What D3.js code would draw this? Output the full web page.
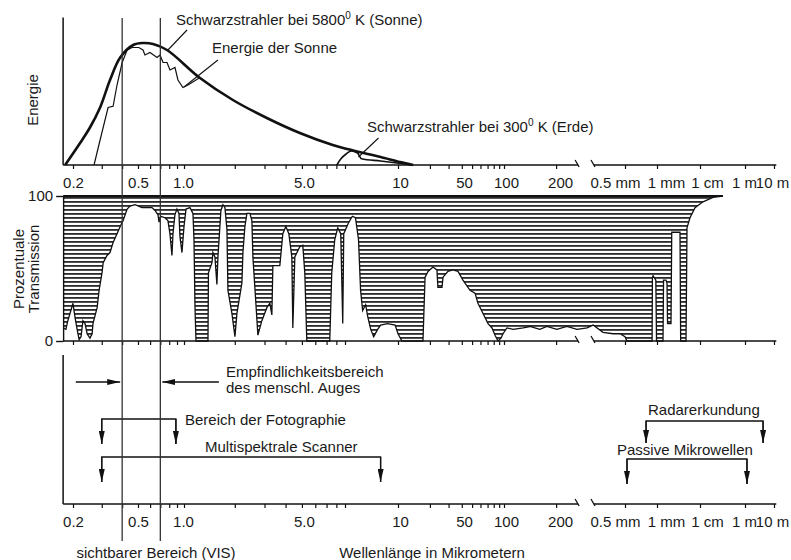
<!doctype html>
<html>
<head>
<meta charset="utf-8">
<title>Elektromagnetisches Spektrum</title>
<style>
  body { margin: 0; background: #fff; }
  svg { display: block; font-family: "Liberation Sans", Arial, Helvetica, sans-serif; }
  text { fill: #1a1a1a; }
</style>
<script src="https://cdn.jsdelivr.net/npm/d3@7"></script>
</head>
<body>
<svg width="791" height="560"></svg>
<script>

// Wellenlaengen in Mikrometern, Energie in willkuerlichen Einheiten (0-100)
var bbSunWl = [0.179, 0.221, 0.254, 0.293, 0.337, 0.389, 0.467, 0.539, 0.627, 0.774, 1.244, 1.949, 3.098, 4.859, 7.61, 9.04, 9.415, 9.66, 10.44, 13.9];
var bbSunE  = [0, 17.6, 30, 46, 68, 86, 96, 97.6, 96.8, 92, 69.6, 52, 37.6, 25.6, 16, 12.8, 8.8, 6.4, 2.4, 0];

var sunWl = [0.269, 0.293, 0.328, 0.352, 0.372, 0.40, 0.429, 0.46, 0.506, 0.539, 0.555, 0.599, 0.666, 0.697, 0.729, 0.774, 0.81, 0.873, 0.913, 0.984, 1.056, 1.244];
var sunE  = [0, 20, 46, 47, 64, 82, 92, 94, 94, 92, 88, 90, 86, 88, 82, 82, 76, 78, 68, 62, 64, 70];

var earthWl = [8.05, 8.49, 9.02, 9.113, 9.226, 9.3, 9.66, 13.9];
var earthE  = [0, 4.8, 8.8, 11.2, 9.6, 5, 3.2, 0];

// Prozentuale Transmission der Atmosphaere
var transWl = [
  0.174, 0.181, 0.186, 0.2, 0.206, 0.212, 0.218, 0.224, 0.230, 0.237, 0.244, 0.254, 0.262, 0.265, 0.281, 0.289, 0.301, 0.306, 0.323, 0.337,
  0.352, 0.372, 0.389, 0.405, 0.429, 0.447, 0.480, 0.531, 0.573, 0.617, 0.646, 0.676, 0.686, 0.707, 0.750, 0.785, 0.809, 0.834, 0.847, 0.872,
  0.899, 0.927, 0.941, 0.970, 1.0, 1.028, 1.085, 1.130, 1.146, 1.162, 1.178,
  1.387, 1.396, 1.465, 1.484, 1.525, 1.567, 1.589, 1.655, 1.701, 1.748, 1.797, 1.821, 1.923, 2.004, 2.059, 2.204, 2.235, 2.296, 2.360, 2.458,
  2.526, 2.561, 2.667, 2.741, 2.894, 3.098, 3.228, 3.317, 3.363, 3.698, 3.853, 4.014, 4.182, 4.356, 4.416, 4.538, 4.859, 5.060, 5.200, 5.344,
  7.310, 7.511, 7.826, 8.152, 8.492, 8.727, 8.847, 9.057, 9.132, 9.189, 9.245, 9.283, 9.321, 9.377, 9.415, 9.472, 9.528, 9.604, 9.660, 9.792,
  9.943, 10.0, 10.9,
  17.2, 18.0, 19.2, 21.4, 23.3, 23.8, 26.0, 26.6, 29.6, 33.0, 36.8, 41.0, 47.8, 53.3, 56.8, 63.4, 70.7, 77.1, 82.3, 87.8,
  93.7, 97.9, 104, 113, 129, 141, 161, 177, 202, 231, 264, 302, 327, 373, 427, 468, 500, 522,
  899, 905, 918, 975, 990, 1379, 1420, 1619, 1708, 1760, 2116, 2200, 3427, 3550, 4725, 4985, 5850, 7650, 13590, 37830, 105200
];
var transPct = [
  9, 8, 14, 26, 16, 8, 1, 3, 14, 12, 5, 2, 5, 12, 23, 35, 47, 54, 59, 61,
  68, 74, 79, 83, 91, 93, 94, 92, 92, 92, 90, 87, 82, 86, 85, 83, 74, 59, 74, 87,
  91, 88, 72, 61, 79, 91, 92, 88, 70, 23, 0,
  0, 47, 54, 61, 58, 39, 58, 90, 94, 92, 77, 35, 19, 3, 19, 40, 61, 79, 88, 88,
  83, 58, 26, 4, 14, 23, 26, 18, 52, 52, 74, 79, 74, 58, 9, 58, 65, 66, 47, 0,
  0, 47, 70, 78, 74, 12, 74, 81, 86, 85, 70, 35, 21, 25, 17, 8, 3, 8, 11, 12,
  11, 5, 0,
  0, 44, 48, 51, 49, 37, 37, 44, 48, 49, 48, 42, 35, 33, 26, 19, 12, 9, 4, 0,
  2, 5, 9, 8, 9, 10, 8, 10, 8, 10, 8, 9, 11, 6, 5, 5, 3, 0,
  0, 43, 45, 42, 0, 0, 42, 42, 40, 12, 12, 75, 75, 0, 0, 78, 85, 92, 96, 99, 100
];

// Achsenbeschriftung
var tickLabelWl = [0.2, 0.5, 1, 5, 10, 50, 100, 200, 500, 1000, 1e4, 1e6, 1e7];
var tickLabels  = ['0.2', '0.5', '1.0', '5.0', '10', '50', '100', '200', '0.5 mm', '1 mm', '1 cm', '1 m', '10 m'];
var minorTickWl = [0.3, 0.4, 0.6, 0.7, 0.8, 0.9, 2, 3, 4, 6, 7, 8, 9, 20, 30, 40, 60, 70, 80, 90];

// Bereiche (Mikrometer)
var visRange = [0.4, 0.7];
var eyeArrowTails = [0.208, 1.61];
var fotoRange = [0.3, 0.885];
var scannerRange = [0.3, 9.66];
var radarRange = [789, 4.2e6];
var passiveRange = [522, 1.17e6];

// Hinweislinien [wl, energie]
var pointerSun5800 = [[1.042, 108], [0.785, 92]];
var pointerSun = [[1.589, 84], [1.0, 62.4]];
var pointerEarth = [[9.62, 21.6], [9.245, 6.4]];


var svg = d3.select('svg');

// handgezeichnete, stueckweise logarithmische Wellenlaengenachse
var anchorWl = [0.2, 0.5, 1, 9, 10, 100, 500, 1000, 1e4, 1e6, 1e7];
var anchorPx = [73, 138, 184, 345, 398, 504, 625, 657, 700, 745, 774];
var xl = d3.scaleLinear().domain(anchorWl.map(Math.log10)).range(anchorPx);
function x(wl) { return xl(Math.log10(wl)); }

var axisStart = 0.174, breakLeft = 268, breakRight = 331, axisEnd = 1.2e7;
var left = x(axisStart);

var yE = d3.scaleLinear().domain([0, 100]).range([165, 40]);
var yT = d3.scaleLinear().domain([0, 100]).range([341, 196]);
var bottomAxisY = 504;

var defs = svg.append('defs');
defs.append('pattern')
  .attr('id', 'hatch')
  .attr('patternUnits', 'userSpaceOnUse')
  .attr('width', 8).attr('height', 4)
  .append('rect')
  .attr('x', 0).attr('y', 1).attr('width', 8).attr('height', 1.8)
  .attr('fill', '#2a2a2a');

defs.append('marker')
  .attr('id', 'arr')
  .attr('markerUnits', 'userSpaceOnUse')
  .attr('markerWidth', 13).attr('markerHeight', 6)
  .attr('refX', 13).attr('refY', 3)
  .attr('orient', 'auto')
  .append('path').attr('d', 'M0,0L13,3L0,6Z').attr('fill', '#111');

var labelShift = [0, 0, -1, 2, 2, -8, 2, 4, -10, 9, 7, -1, -2];

function xAxis(y, withLabels) {
  var all = tickLabelWl.concat(minorTickWl);
  var g = svg.append('g').attr('transform', 'translate(0,' + y + ')');
  g.call(d3.axisBottom(xl)
    .tickValues(all.map(Math.log10))
    .tickSize(4)
    .tickPadding(8)
    .tickFormat(function(v) {
      var i = tickLabelWl.findIndex(function(w) { return Math.abs(Math.log10(w) - v) < 1e-9; });
      return (withLabels && i >= 0) ? tickLabels[i] : '';
    }));
  g.select('.domain').remove();
  g.attr('font-size', 15).attr('font-family', null);
  g.selectAll('.tick line').attr('stroke', '#111').attr('stroke-width', 1.2);
  g.selectAll('.tick text').attr('fill', '#1a1a1a').attr('dx', function(v) {
    var i = tickLabelWl.findIndex(function(w) { return Math.abs(Math.log10(w) - v) < 1e-9; });
    return i >= 0 ? labelShift[i] : 0;
  });

  // Achse mit Unterbrechung
  var segs = [[axisStart, breakLeft], [breakRight, axisEnd]];
  segs.forEach(function(s) {
    g.append('line')
      .attr('x1', x(s[0])).attr('x2', x(s[1]))
      .attr('y1', 0).attr('y2', 0)
      .attr('stroke', '#111').attr('stroke-width', 1.5);
  });
  [x(breakLeft), x(breakRight)].forEach(function(bx) {
    g.append('line')
      .attr('x1', bx - 3).attr('y1', -5)
      .attr('x2', bx + 1).attr('y2', 2)
      .attr('stroke', '#111').attr('stroke-width', 1.3);
  });
}

// ---------- Transmission ----------
var trans = d3.zip(transWl, transPct);

svg.append('path')
  .datum(trans)
  .attr('d', d3.area().x(function(d) { return x(d[0]); }).y0(yT(100)).y1(function(d) { return yT(d[1]); }))
  .attr('fill', 'url(#hatch)');

svg.append('path')
  .datum(trans)
  .attr('d', d3.line().x(function(d) { return x(d[0]); }).y(function(d) { return yT(d[1]); }))
  .attr('fill', 'none').attr('stroke', '#111').attr('stroke-width', 1.3);

svg.append('line')
  .attr('x1', left).attr('x2', x(transWl[transWl.length - 1]))
  .attr('y1', yT(100)).attr('y2', yT(100))
  .attr('stroke', '#111').attr('stroke-width', 2);

var gT = svg.append('g').attr('transform', 'translate(' + left + ',0)');
gT.call(d3.axisLeft(yT).tickValues([0, 100]).tickSize(7).tickSizeOuter(0).tickPadding(3));
gT.attr('font-size', 15).attr('font-family', null);
gT.selectAll('path, line').attr('stroke', '#111').attr('stroke-width', 1.4);
gT.selectAll('text').attr('fill', '#1a1a1a');

xAxis(yT(0), false);

// ---------- Energie ----------
svg.append('line')
  .attr('x1', left).attr('x2', left)
  .attr('y1', yE(118)).attr('y2', yE(0))
  .attr('stroke', '#111').attr('stroke-width', 1.5);

xAxis(yE(0), true);

var lineE = d3.line()
  .x(function(d) { return x(d[0]); })
  .y(function(d) { return yE(d[1]); });

svg.append('path')
  .datum(d3.zip(sunWl, sunE))
  .attr('d', lineE)
  .attr('fill', 'none').attr('stroke', '#111').attr('stroke-width', 1.2);

svg.append('path')
  .datum(d3.zip(earthWl, earthE))
  .attr('d', lineE.curve(d3.curveMonotoneX))
  .attr('fill', 'none').attr('stroke', '#111').attr('stroke-width', 1.6);

svg.append('path')
  .datum(d3.zip(bbSunWl, bbSunE))
  .attr('d', lineE.curve(d3.curveCatmullRom.alpha(0.5)))
  .attr('fill', 'none').attr('stroke', '#111').attr('stroke-width', 2.6);

[pointerSun5800, pointerSun, pointerEarth].forEach(function(p) {
  svg.append('line')
    .attr('x1', x(p[0][0])).attr('y1', yE(p[0][1]))
    .attr('x2', x(p[1][0])).attr('y2', yE(p[1][1]))
    .attr('stroke', '#111').attr('stroke-width', 1.1);
});

function degLabel(tx, ty, a, deg, b) {
  var t = svg.append('text').attr('x', tx).attr('y', ty).attr('font-size', 15);
  t.append('tspan').text(a);
  t.append('tspan').attr('font-size', 10).attr('dy', -6).text(deg);
  t.append('tspan').attr('dy', 6).text(b);
}
degLabel(176, 25, 'Schwarzstrahler bei 5800', '0', ' K (Sonne)');
degLabel(367, 132, 'Schwarzstrahler bei 300', '0', ' K (Erde)');
svg.append('text').attr('x', 212).attr('y', 53).attr('font-size', 15).text('Energie der Sonne');

function vLabel(tx, ty, s) {
  svg.append('text')
    .attr('transform', 'translate(' + tx + ',' + ty + ') rotate(-90)')
    .attr('text-anchor', 'middle')
    .attr('font-size', 15)
    .text(s);
}
vLabel(38, 100, 'Energie');
vLabel(24, 269, 'Prozentuale');
vLabel(39, 269, 'Transmission');

// ---------- Fernerkundungsbereiche ----------
svg.append('line')
  .attr('x1', left).attr('x2', left)
  .attr('y1', 355).attr('y2', bottomAxisY)
  .attr('stroke', '#111').attr('stroke-width', 1.5);

xAxis(bottomAxisY, true);

// Auge
var eyeY = 382;
svg.append('line')
  .attr('x1', x(eyeArrowTails[0])).attr('x2', x(visRange[0]) - 2)
  .attr('y1', eyeY).attr('y2', eyeY)
  .attr('stroke', '#111').attr('stroke-width', 1.3).attr('marker-end', 'url(#arr)');
svg.append('line')
  .attr('x1', x(eyeArrowTails[1])).attr('x2', x(visRange[1]) + 2)
  .attr('y1', eyeY).attr('y2', eyeY)
  .attr('stroke', '#111').attr('stroke-width', 1.3).attr('marker-end', 'url(#arr)');
svg.append('text').attr('x', 226).attr('y', 377).attr('font-size', 15).text('Empfindlichkeitsbereich');
svg.append('text').attr('x', 226).attr('y', 393).attr('font-size', 15).text('des menschl. Auges');

function bracket(range, yLine, yTip) {
  svg.append('path')
    .attr('d', 'M' + x(range[0]) + ',' + yTip + 'V' + yLine + 'H' + x(range[1]) + 'V' + yTip)
    .attr('fill', 'none').attr('stroke', '#111').attr('stroke-width', 1.3);
  range.forEach(function(w) {
    svg.append('line')
      .attr('x1', x(w)).attr('x2', x(w))
      .attr('y1', yLine).attr('y2', yTip)
      .attr('stroke', '#111').attr('stroke-width', 1.3).attr('marker-end', 'url(#arr)');
  });
}
bracket(fotoRange, 419, 444);
bracket(scannerRange, 457, 482);
bracket(radarRange, 421, 443);
bracket(passiveRange, 459, 484);

svg.append('text').attr('x', 185).attr('y', 425).attr('font-size', 15).text('Bereich der Fotographie');
svg.append('text').attr('x', 205).attr('y', 452).attr('font-size', 15).text('Multispektrale Scanner');
svg.append('text').attr('x', 648).attr('y', 415).attr('font-size', 15).text('Radarerkundung');
svg.append('text').attr('x', 617).attr('y', 455).attr('font-size', 15).text('Passive Mikrowellen');

// sichtbarer Bereich
visRange.forEach(function(w) {
  svg.append('line')
    .attr('x1', x(w)).attr('x2', x(w))
    .attr('y1', 18).attr('y2', 541)
    .attr('stroke', '#333').attr('stroke-width', 1.3);
});

svg.append('text').attr('x', 156).attr('y', 558).attr('text-anchor', 'middle').attr('font-size', 15).text('sichtbarer Bereich (VIS)');
svg.append('text').attr('x', 432).attr('y', 558).attr('text-anchor', 'middle').attr('font-size', 15).text('Wellenlänge in Mikrometern');

</script>
</body>
</html>
